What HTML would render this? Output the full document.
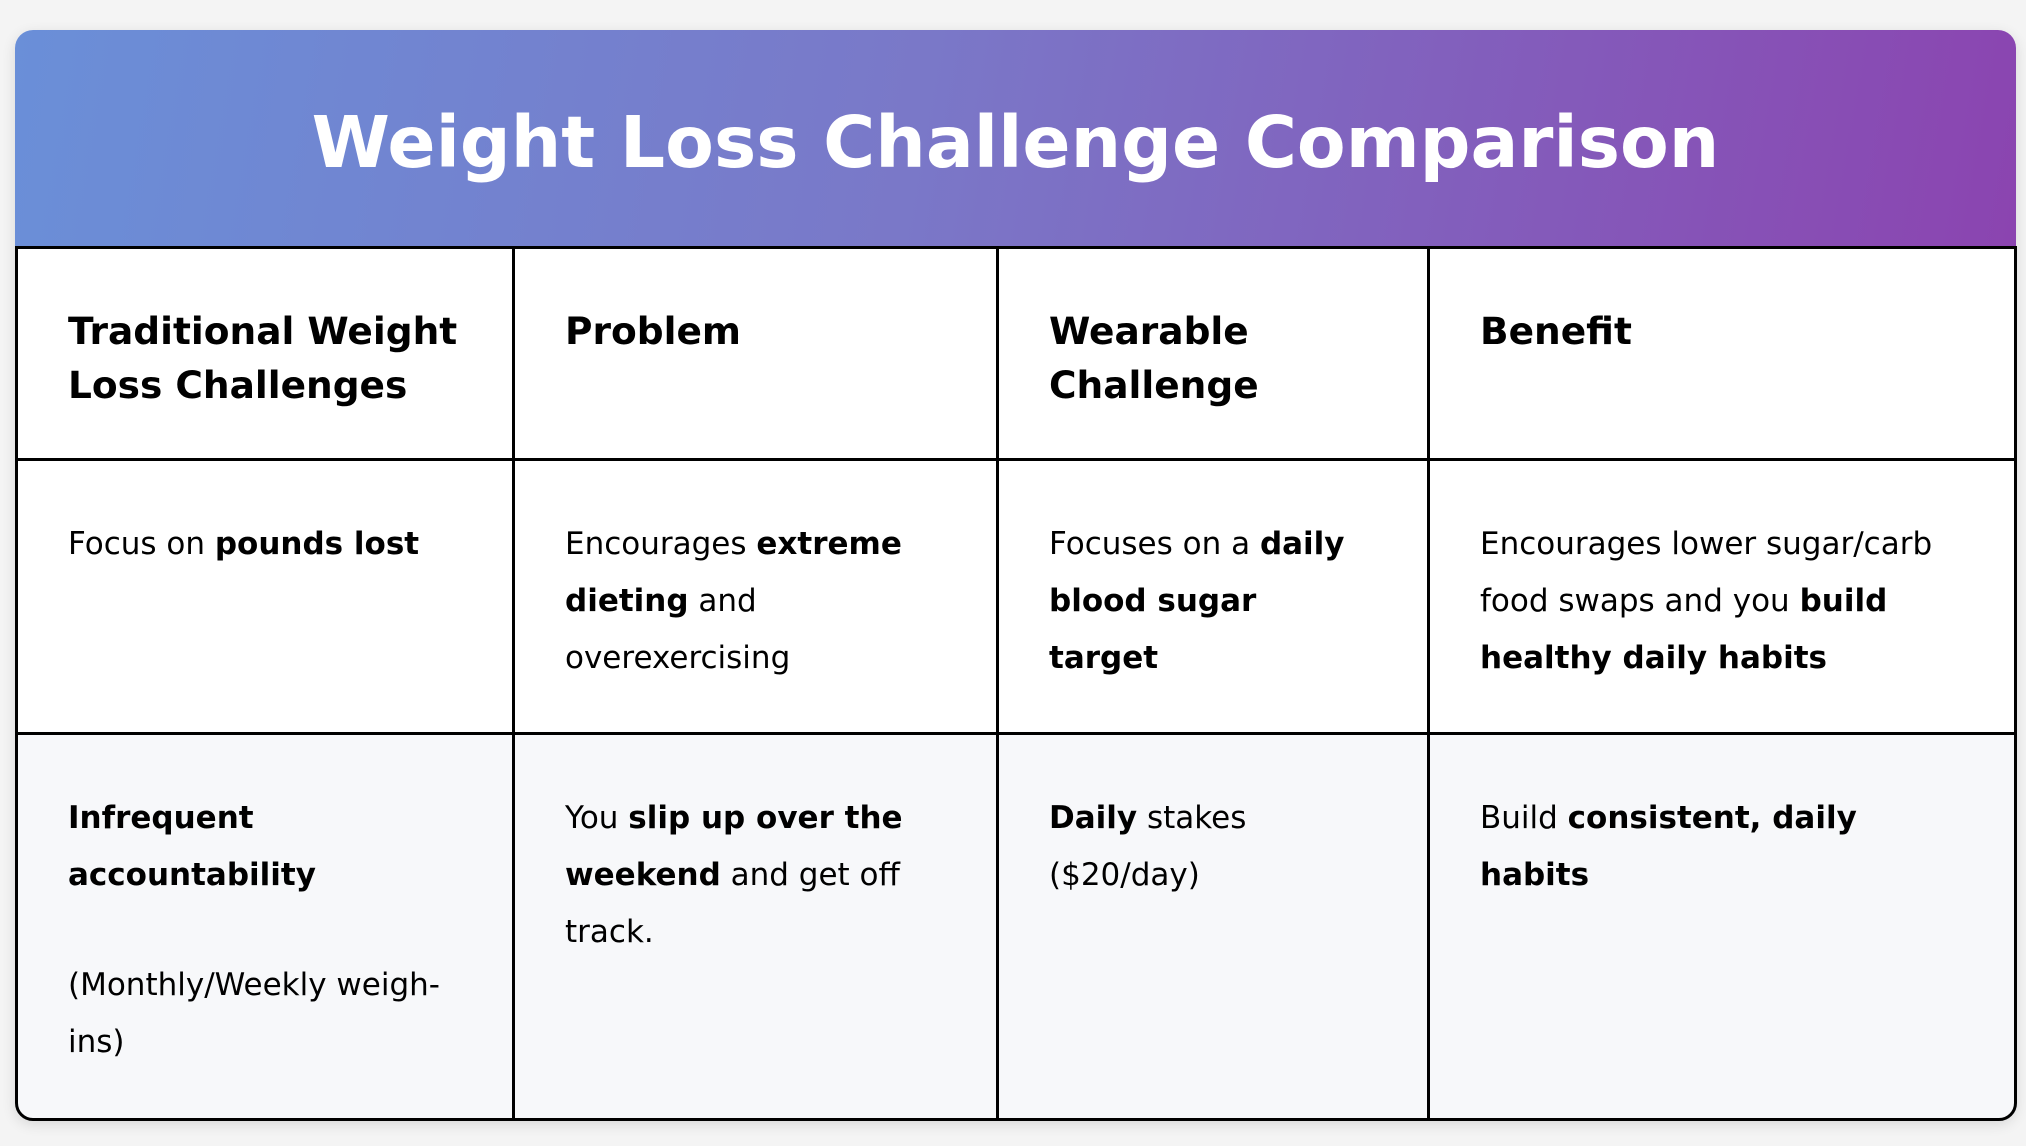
<!DOCTYPE html>
<html><head><meta charset="utf-8"><style>
html,body{margin:0;padding:0;width:2026px;height:1146px;background:#f4f4f4;overflow:hidden;font-family:"DejaVu Sans","Liberation Sans",sans-serif;}
.card{position:absolute;left:15px;top:30px;width:2001px;height:1090px;border-radius:18px;overflow:hidden;background:#fff;box-shadow:0 4px 14px rgba(0,0,0,0.12);}
.hdr{position:absolute;left:0;top:0;width:2001px;height:218px;background:linear-gradient(100deg,#6a8fd8 0%,#7a78c8 45%,#8b44b0 100%);display:flex;align-items:center;justify-content:center;padding-top:6px;box-sizing:border-box;}
.hdr h1{margin:0;color:#fff;font-size:71px;font-weight:bold;letter-spacing:0px;}
.cell{position:absolute;box-sizing:border-box;border:3px solid #000;padding:55px 0 0 50px;font-size:31px;line-height:57px;color:#000;white-space:nowrap;}
.th{font-size:37.5px;font-weight:bold;line-height:54px;}
.alt{background:#f7f8fa;}
p{margin:0;}
</style></head><body>
<div class="card">
<div class="hdr"><h1>Weight Loss Challenge Comparison</h1></div>
</div>
<div class="cell th" style="left:15px;top:246px;width:500px;height:215px;">Traditional Weight<br>Loss Challenges</div>
<div class="cell th" style="left:512px;top:246px;width:487px;height:215px;">Problem</div>
<div class="cell th" style="left:996px;top:246px;width:434px;height:215px;">Wearable<br>Challenge</div>
<div class="cell th" style="left:1427px;top:246px;width:590px;height:215px;">Benefit</div>

<div class="cell" style="left:15px;top:458px;width:500px;height:277px;">Focus on <b>pounds lost</b></div>
<div class="cell" style="left:512px;top:458px;width:487px;height:277px;">Encourages <b>extreme</b><br><b>dieting</b> and<br>overexercising</div>
<div class="cell" style="left:996px;top:458px;width:434px;height:277px;">Focuses on a <b>daily</b><br><b>blood sugar</b><br><b>target</b></div>
<div class="cell" style="left:1427px;top:458px;width:590px;height:277px;">Encourages lower sugar/carb<br>food swaps and you <b>build</b><br><b>healthy daily habits</b></div>

<div class="cell alt" style="left:15px;top:732px;width:500px;height:389px;border-bottom-left-radius:18px;"><p><b>Infrequent</b><br><b>accountability</b></p><p style="margin-top:53px">(Monthly/Weekly weigh-<br>ins)</p></div>
<div class="cell alt" style="left:512px;top:732px;width:487px;height:389px;">You <b>slip up over the</b><br><b>weekend</b> and get off<br>track.</div>
<div class="cell alt" style="left:996px;top:732px;width:434px;height:389px;"><b>Daily</b> stakes<br>($20/day)</div>
<div class="cell alt" style="left:1427px;top:732px;width:590px;height:389px;border-bottom-right-radius:18px;">Build <b>consistent, daily</b><br><b>habits</b></div>
</body></html>
